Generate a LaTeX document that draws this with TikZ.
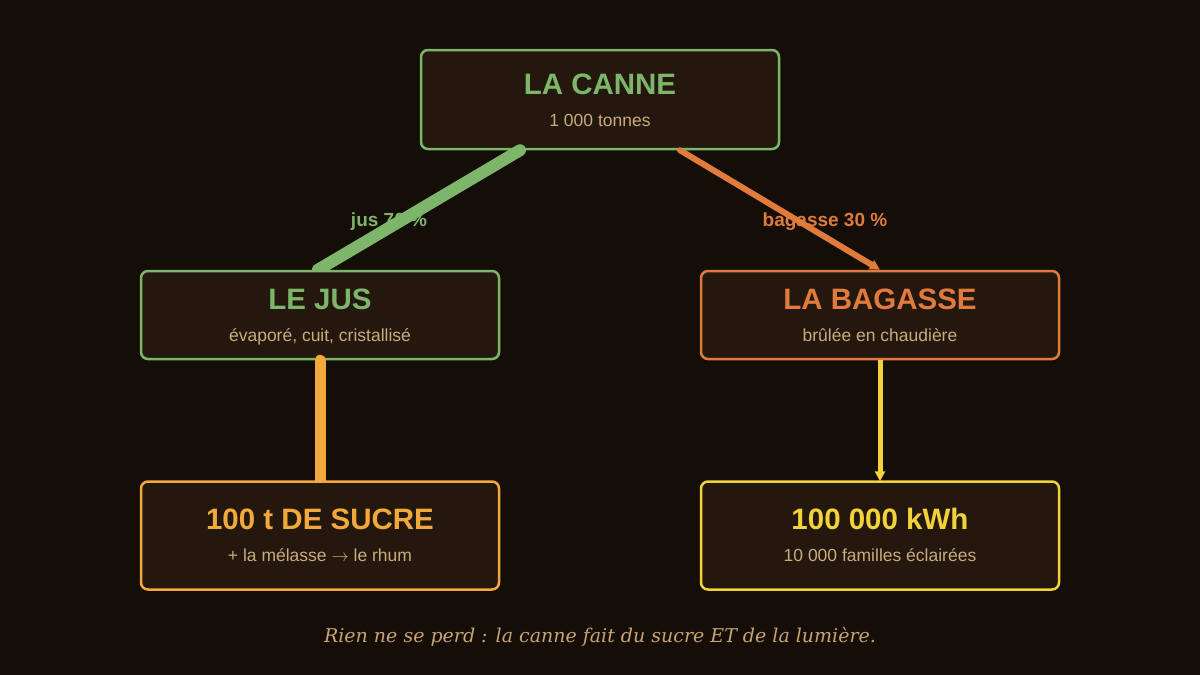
\documentclass[tikz,border=0pt]{standalone}
\usepackage{fontspec}
\setmainfont{Liberation Sans}
\newfontfamily\notefont{DejaVu Serif}
\usetikzlibrary{arrows.meta}

\definecolor{bg}{HTML}{150D07}
\definecolor{boxfill}{HTML}{24180E}
\definecolor{subtext}{HTML}{CAAB7B}
\definecolor{notetext}{HTML}{C9A46F}
\definecolor{canegreen}{HTML}{7DB66B}
\definecolor{bagorange}{HTML}{E07B3D}
\definecolor{sugargold}{HTML}{F2A93B}
\definecolor{lightyellow}{HTML}{F1D23A}

\begin{document}
\begin{tikzpicture}[x=1pt,y=-1pt,
    box/.style={draw,rounded corners=7pt,fill=boxfill,line width=2.5pt,
                minimum width=358pt,inner sep=0pt},
    head/.style={anchor=base,font=\bfseries\fontsize{29.5}{32}\selectfont},
    sub/.style={anchor=base,text=subtext,font=\fontsize{17.5}{20}\selectfont},
    flow/.style={anchor=base,font=\bfseries\fontsize{19}{22}\selectfont}]

  \fill[bg] (0,0) rectangle (1200,675);

  % la canne
  \node[box,draw=canegreen,minimum height=99pt] (canne) at (600,99.5) {};
  \node[head,text=canegreen] (canneT) at (600,94)  {LA CANNE};
  \node[sub]                 (canneS) at (600,126) {1 000 tonnes};

  \node[flow,text=canegreen] (jusL) at (389,226) {jus 70 \%};
  \node[flow,text=bagorange] (bagL) at (825,226) {bagasse 30 \%};

  % jus et bagasse
  \node[box,draw=canegreen,minimum height=88pt] (jus) at (320,315) {};
  \node[head,text=canegreen] (jusT) at (320,309) {LE JUS};
  \node[sub]                 (jusS) at (320,341) {évaporé, cuit, cristallisé};

  \node[box,draw=bagorange,minimum height=88pt] (bag) at (880,315) {};
  \node[head,text=bagorange] (bagT) at (880,309) {LA BAGASSE};
  \node[sub]                 (bagS) at (880,341) {brûlée en chaudière};

  % cut the split lines flat on the box tops
  \begin{scope}
    \clip (jus.north west |- canne.north) rectangle (bag.north east);
    \draw[canegreen,line width=12pt,line cap=round]
      ([xshift=-80pt]canne.south) -- ([xshift=-2pt]jus.north);
    \draw[bagorange,line width=6pt,line cap=round,
          -{Triangle[length=10pt,width=10pt]}]
      ([xshift=80pt]canne.south) -- (bag.north);
  \end{scope}

  % produits (boxes drawn over the line ends)
  \path (jus.south) ++(0,120) coordinate (sucreTop)
        (bag.south) ++(0,120) coordinate (kwhTop);
  \draw[sugargold,line width=11pt,line cap=round] (jus.south) -- (sucreTop);
  \draw[lightyellow,line width=5pt,-{Triangle[length=10pt,width=10pt]}]
    (bag.south) -- ([yshift=-1pt]kwhTop);

  \node[box,draw=sugargold,minimum height=108pt,anchor=north] (sucre) at (sucreTop) {};
  \node[head,text=sugargold] (sucreT) at (320,529) {100 t DE SUCRE};
  \node[sub]                 (sucreS) at (320,561) {+ la mélasse $\rightarrow$ le rhum};

  \node[box,draw=lightyellow,minimum height=108pt,anchor=north] (kwh) at (kwhTop) {};
  \node[head,text=lightyellow] (kwhT) at (880,529) {100 000 kWh};
  \node[sub]                   (kwhS) at (880,561) {10 000 familles éclairées};

  \node[anchor=base,text=notetext,font=\notefont\itshape\fontsize{19}{22}\selectfont]
    (note) at (600,642) {Rien ne se perd : la canne fait du sucre ET de la lumière.};
\end{tikzpicture}
\end{document}
